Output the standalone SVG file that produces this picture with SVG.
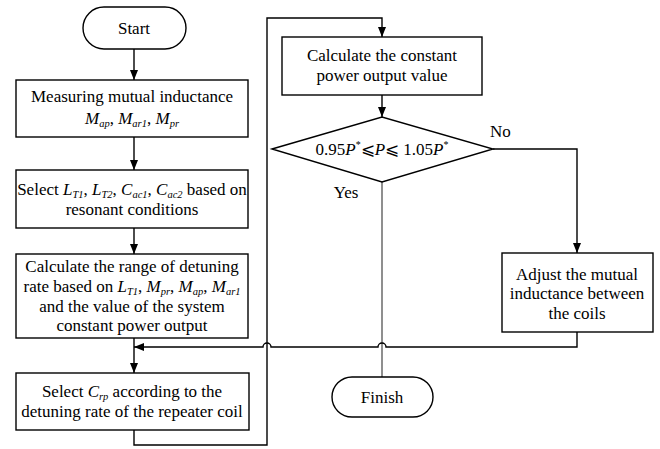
<svg xmlns="http://www.w3.org/2000/svg" width="660" height="449" viewBox="0 0 660 449">
<style>
.n{fill:#fff;stroke:#000;stroke-width:1.4}
.t{font-family:"Liberation Serif","Times New Roman",serif;font-size:17px;fill:#000;text-anchor:middle}
.l{font-family:"Liberation Serif","Times New Roman",serif;font-size:17px;fill:#000}
.i{font-style:italic}
.s{font-style:italic;font-size:10.5px}
.c{fill:none;stroke:#000;stroke-width:1.4}
</style>
<defs>
<marker id="ah" viewBox="0 0 10 10" refX="10" refY="5" markerWidth="10" markerHeight="10" markerUnits="userSpaceOnUse" orient="auto">
<path d="M0,1 L10,5 L0,9 Z" fill="#000"/>
</marker>
</defs>
<g id="connectors">
<path class="c" d="M134,49 V80" marker-end="url(#ah)"/>
<path class="c" d="M134,137 V170" marker-end="url(#ah)"/>
<path class="c" d="M134,228 V254" marker-end="url(#ah)"/>
<path class="c" d="M134,338 V373" marker-end="url(#ah)"/>
<path class="c" d="M134,430 V445 H267 V18 H382 V37" marker-end="url(#ah)"/>
<path class="c" d="M382,95 V117" marker-end="url(#ah)"/>
<path class="c" d="M493,149 H577 V253" marker-end="url(#ah)"/>
<path class="c" d="M382,182 V377" style="stroke:#333;stroke-width:1.1"/>
<path class="c" d="M577,332 V347 H386 A4,4 0 0 0 378,347 H271 A4,4 0 0 0 263,347 H134" marker-end="url(#ah)"/>
<text class="l" x="490" y="137">No</text>
<text class="t" x="346" y="198">Yes</text>
</g>
<g id="start">
<rect class="n" x="83" y="7" width="103" height="42" rx="21"/>
<text class="t" x="134" y="34">Start</text>
</g>
<g id="measure">
<rect class="n" x="16" y="80" width="232" height="57"/>
<text class="t" x="132" y="102">Measuring mutual inductance</text>
<text class="t" x="132" y="124"><tspan class="i">M</tspan><tspan class="s" dy="3">ap</tspan><tspan dy="-3">, </tspan><tspan class="i">M</tspan><tspan class="s" dy="3">ar1</tspan><tspan dy="-3">, </tspan><tspan class="i">M</tspan><tspan class="s" dy="3">pr</tspan></text>
</g>
<g id="select-l">
<rect class="n" x="16" y="170" width="232" height="58"/>
<text class="t" x="132" y="195">Select <tspan class="i">L</tspan><tspan class="s" dy="3">T1</tspan><tspan dy="-3">, </tspan><tspan class="i">L</tspan><tspan class="s" dy="3">T2</tspan><tspan dy="-3">, </tspan><tspan class="i">C</tspan><tspan class="s" dy="3">ac1</tspan><tspan dy="-3">, </tspan><tspan class="i">C</tspan><tspan class="s" dy="3">ac2</tspan><tspan dy="-3"> based on</tspan></text>
<text class="t" x="132" y="215">resonant conditions</text>
</g>
<g id="calc-range">
<rect class="n" x="16" y="254" width="232" height="84"/>
<text class="t" x="132" y="272">Calculate the range of detuning</text>
<text class="t" x="132" y="292">rate based on <tspan class="i">L</tspan><tspan class="s" dy="3">T1</tspan><tspan dy="-3">, </tspan><tspan class="i">M</tspan><tspan class="s" dy="3">pr</tspan><tspan dy="-3">, </tspan><tspan class="i">M</tspan><tspan class="s" dy="3">ap</tspan><tspan dy="-3">, </tspan><tspan class="i">M</tspan><tspan class="s" dy="3">ar1</tspan></text>
<text class="t" x="132" y="312">and the value of the system</text>
<text class="t" x="132" y="331">constant power output</text>
</g>
<g id="select-c">
<rect class="n" x="16" y="373" width="233" height="57"/>
<text class="t" x="132" y="397">Select <tspan class="i">C</tspan><tspan class="s" dy="3">rp</tspan><tspan dy="-3"> according to the</tspan></text>
<text class="t" x="132" y="417">detuning rate of the repeater coil</text>
</g>
<g id="calc-power">
<rect class="n" x="282" y="37" width="200" height="58"/>
<text class="t" x="382" y="61">Calculate the constant</text>
<text class="t" x="382" y="81">power output value</text>
</g>
<g id="decision">
<polygon class="n" points="272,149 382,117 493,149 382,182"/>
<text class="t" x="382" y="155">0.95<tspan class="i">P</tspan><tspan font-size="10" dy="-7">*</tspan><tspan dy="7">⩽</tspan><tspan class="i">P</tspan>⩽ 1.05<tspan class="i">P</tspan><tspan font-size="10" dy="-7">*</tspan></text>
</g>
<g id="adjust">
<rect class="n" x="502" y="253" width="151" height="79"/>
<text class="t" x="577" y="280">Adjust the mutual</text>
<text class="t" x="577" y="299">inductance between</text>
<text class="t" x="577" y="319">the coils</text>
</g>
<g id="finish">
<rect class="n" x="332" y="377" width="101" height="40" rx="20"/>
<text class="t" x="382" y="403">Finish</text>
</g>
</svg>
